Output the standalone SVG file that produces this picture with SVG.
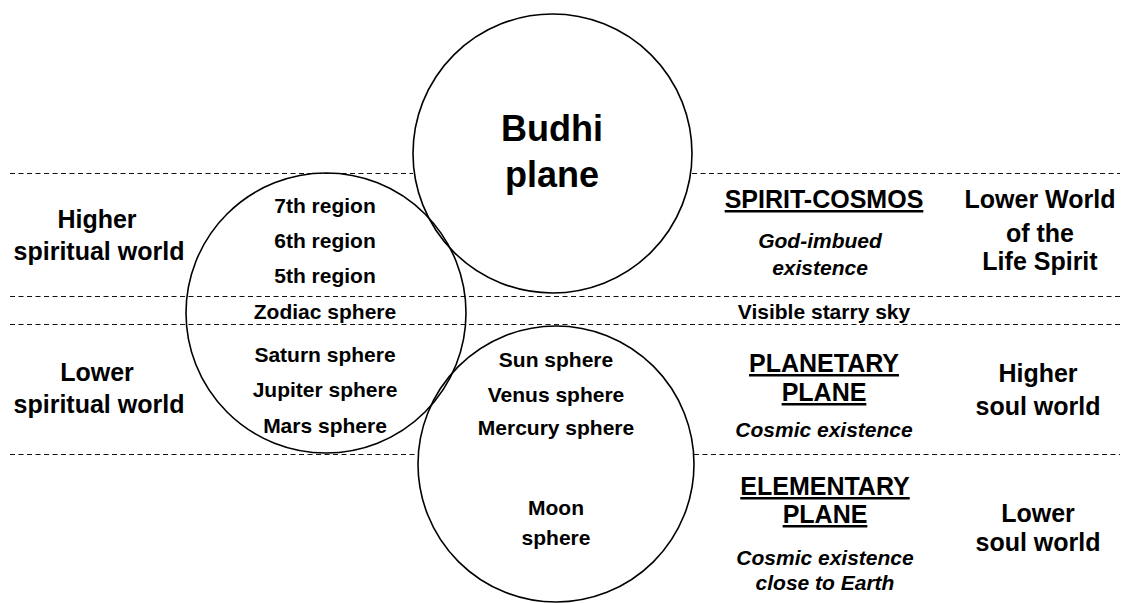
<svg xmlns="http://www.w3.org/2000/svg" width="1123" height="603" viewBox="0 0 1123 603">
  <style>
    text { font-family: "Liberation Sans", Arial, sans-serif; font-weight: bold; fill: #000; text-anchor: middle; }
    .lbl { font-size: 25px; }
    .sm { font-size: 21px; }
    .big { font-size: 36px; }
    .head { font-size: 25px; text-decoration: underline; }
    .it { font-size: 21px; font-style: italic; }
    .ring { fill: none; stroke: #000; stroke-width: 1.6; }
    .dash { stroke: #111; stroke-width: 1; stroke-dasharray: 5 3.5; fill: none; }
  </style>
  <rect width="1123" height="603" fill="#fff"/>

  <!-- horizontal boundaries between the worlds -->
  <g id="dividers">
    <line class="dash" x1="10" y1="173.5" x2="413" y2="173.5"/>
    <line class="dash" x1="692" y1="173.5" x2="1120" y2="173.5"/>
    <line class="dash" x1="10" y1="296.5" x2="1120" y2="296.5"/>
    <line class="dash" x1="10" y1="324.5" x2="1120" y2="324.5"/>
    <line class="dash" x1="10" y1="454.5" x2="418" y2="454.5"/>
    <line class="dash" x1="694" y1="454.5" x2="1120" y2="454.5"/>
  </g>

  <!-- spiritual world circle (regions and outer planets) -->
  <g id="spiritual-circle">
    <circle class="ring" cx="326" cy="313" r="140"/>
    <text class="sm" x="325" y="213">7th region</text>
    <text class="sm" x="325" y="248">6th region</text>
    <text class="sm" x="325" y="283">5th region</text>
    <text class="sm" x="325" y="319">Zodiac sphere</text>
    <text class="sm" x="325" y="362">Saturn sphere</text>
    <text class="sm" x="325" y="397">Jupiter sphere</text>
    <text class="sm" x="325" y="433">Mars sphere</text>
  </g>

  <!-- Budhi plane circle -->
  <g id="budhi-circle">
    <circle class="ring" cx="552.5" cy="153.5" r="139.5"/>
    <text class="big" x="552" y="141">Budhi</text>
    <text class="big" x="552" y="187">plane</text>
  </g>

  <!-- soul world circle (inner planets and moon) -->
  <g id="soul-circle">
    <circle class="ring" cx="556" cy="464" r="138"/>
    <text class="sm" x="556" y="367">Sun sphere</text>
    <text class="sm" x="556" y="402">Venus sphere</text>
    <text class="sm" x="556" y="435">Mercury sphere</text>
    <text class="sm" x="556" y="515">Moon</text>
    <text class="sm" x="556" y="545">sphere</text>
  </g>

  <!-- left-hand world names -->
  <g id="higher-spiritual-world">
    <text class="lbl" x="97" y="228">Higher</text>
    <text class="lbl" x="99" y="260">spiritual world</text>
  </g>
  <g id="lower-spiritual-world">
    <text class="lbl" x="97" y="381">Lower</text>
    <text class="lbl" x="99" y="413">spiritual world</text>
  </g>

  <!-- cosmic planes -->
  <g id="spirit-cosmos">
    <text class="head" x="824" y="208">SPIRIT-COSMOS</text>
    <text class="it" x="820" y="248">God-imbued</text>
    <text class="it" x="820" y="275">existence</text>
  </g>
  <g id="starry-sky">
    <text class="sm" x="824" y="319">Visible starry sky</text>
  </g>
  <g id="planetary-plane">
    <text class="head" x="824" y="372">PLANETARY</text>
    <text class="head" x="824" y="401">PLANE</text>
    <text class="it" x="824" y="437">Cosmic existence</text>
  </g>
  <g id="elementary-plane">
    <text class="head" x="825" y="495">ELEMENTARY</text>
    <text class="head" x="825" y="523">PLANE</text>
    <text class="it" x="825" y="565">Cosmic existence</text>
    <text class="it" x="825" y="590">close to Earth</text>
  </g>

  <!-- right-hand world names -->
  <g id="life-spirit-world">
    <text class="lbl" x="1040" y="208">Lower World</text>
    <text class="lbl" x="1040" y="242">of the</text>
    <text class="lbl" x="1040" y="270">Life Spirit</text>
  </g>
  <g id="higher-soul-world">
    <text class="lbl" x="1038" y="382">Higher</text>
    <text class="lbl" x="1038" y="415">soul world</text>
  </g>
  <g id="lower-soul-world">
    <text class="lbl" x="1038" y="522">Lower</text>
    <text class="lbl" x="1038" y="551">soul world</text>
  </g>
</svg>
